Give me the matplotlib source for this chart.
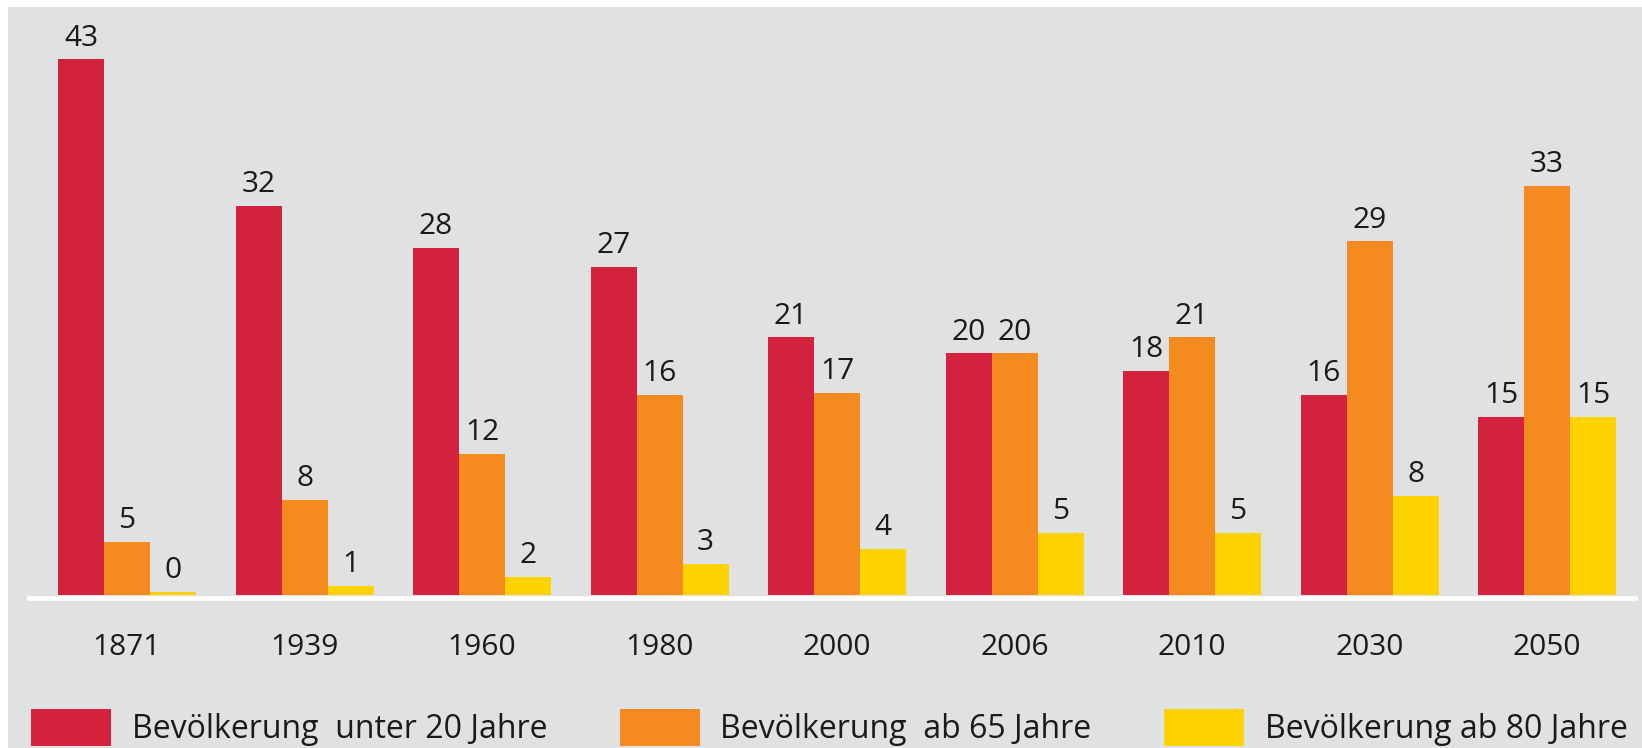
import matplotlib
matplotlib.use("Agg")
import matplotlib.pyplot as plt
from matplotlib.patches import Rectangle, Patch
import numpy as np

# ---- data ----
years = ["1871", "1939", "1960", "1980", "2000", "2006", "2010", "2030", "2050"]
series_names = ["Bevölkerung  unter 20 Jahre", "Bevölkerung  ab 65 Jahre", "Bevölkerung ab 80 Jahre"]
# bar heights (percent)
under20 = [43.5, 31.6, 28.2, 26.6, 20.9, 19.6, 18.2, 16.2, 14.4]
over65 = [4.3, 7.7, 11.4, 16.2, 16.4, 19.6, 20.9, 28.7, 33.2]
over80 = [0.2, 0.7, 1.4, 2.5, 3.7, 5.0, 5.0, 8.0, 14.4]
# printed value labels
under20_labels = ["43", "32", "28", "27", "21", "20", "18", "16", "15"]
over65_labels = ["5", "8", "12", "16", "17", "20", "21", "29", "33"]
over80_labels = ["0", "1", "2", "3", "4", "5", "5", "8", "15"]

colors = ["#d2223e", "#f58b1f", "#ffd300"]
bg = "#e0e1e3"
txt = "#1a1a1a"

W, H = 1642, 748
plt.rcParams["font.family"] = ["Open Sans", "DejaVu Sans"]

fig = plt.figure(figsize=(W / 100, H / 100), dpi=100, facecolor="white")
fig.patches.append(Rectangle((8 / W, 0), 1, 1 - 7 / H, transform=fig.transFigure,
                             facecolor=bg, edgecolor="none", zorder=-10))

# axes geometry in pixels
ax_left, ax_right, ax_top, ax_bottom = 27, 1638, 20, 610
base_px = 594.5
ppu = 12.3  # pixels per percent
ax = fig.add_axes([ax_left / W, (H - ax_bottom) / H, (ax_right - ax_left) / W, (ax_bottom - ax_top) / H])
ax.set_facecolor("none")

spacing = 177.5
first_center = 127
ax.set_xlim((ax_left - first_center) / spacing, (ax_right - first_center) / spacing)
ymin = -(ax_bottom - base_px) / ppu
ax.set_ylim(ymin, ymin + (ax_bottom - ax_top) / ppu)

x = np.arange(len(years))
bw = 46 / spacing
for k, (vals, labs) in enumerate([(under20, under20_labels), (over65, over65_labels), (over80, over80_labels)]):
    xs = x + (k - 1) * bw
    ax.bar(xs, vals, width=bw, color=colors[k], edgecolor="none", zorder=2, label=series_names[k])
    for xi, v, lab in zip(xs, vals, labs):
        ax.annotate(lab, xy=(xi, v), xytext=(0, 10), textcoords="offset points",
                    ha="center", va="baseline", fontsize=21.5, color=txt)

ax.axhline(-(598 - base_px) / ppu, color="white", lw=3.3, zorder=1)

ax.set_xticks(x)
ax.set_xticklabels(years, fontsize=21.5, color=txt)
ax.tick_params(axis="x", length=0, pad=16.5)
ax.set_yticks([])
for s in ax.spines.values():
    s.set_visible(False)

handles = [Patch(facecolor=c, edgecolor="none") for c in colors]
fs = 23
em = fs * 100 / 72
fig.legend(handles, series_names, loc="lower left", bbox_to_anchor=(31 / W, 2 / H),
           ncol=3, frameon=False, fontsize=fs, borderpad=0, borderaxespad=0,
           handlelength=80 / em, handleheight=44 / em, handletextpad=21 / em,
           columnspacing=72 / em, labelcolor=txt)

fig.savefig("out.png", dpi=100, facecolor="white")
